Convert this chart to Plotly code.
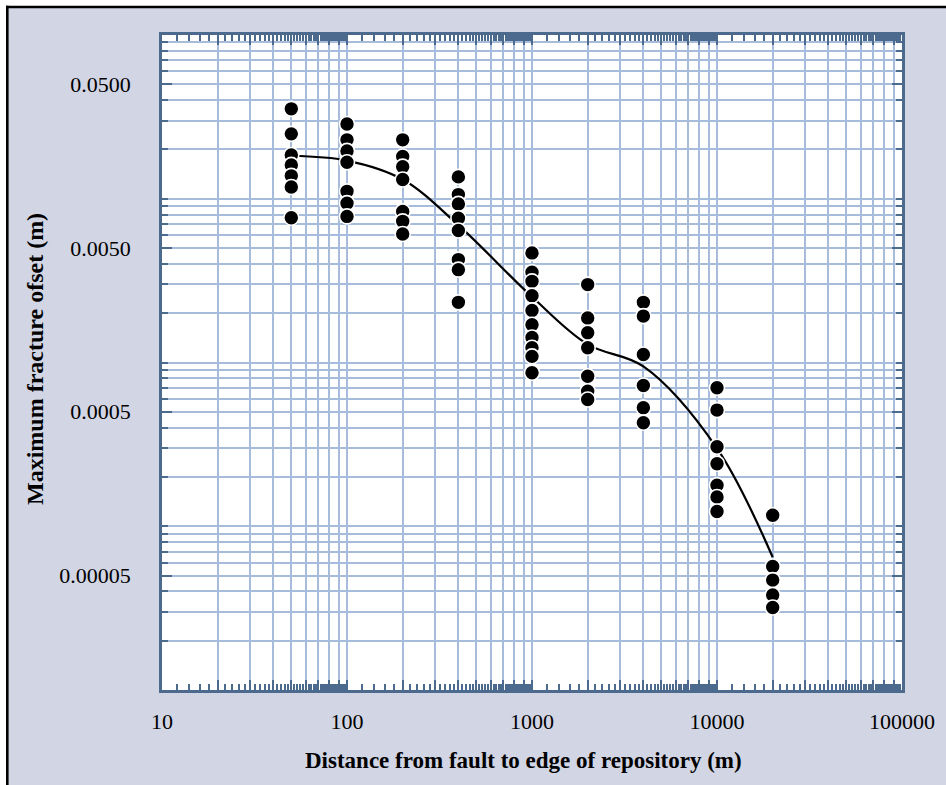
import plotly.graph_objects as go

# Distances from fault to repository edge (m) and the offsets computed at each
distances = [50, 100, 200, 400, 1000, 2000, 4000, 10000, 20000]
offsets = [
    [0.0354, 0.0249, 0.0185, 0.0161, 0.0138, 0.0118, 0.00766],
    [0.0286, 0.0229, 0.0196, 0.0167, 0.0111, 0.0094, 0.0078],
    [0.0229, 0.0181, 0.0157, 0.0131, 0.00837, 0.00728, 0.00609],
    [0.0136, 0.0106, 0.0093, 0.0076, 0.0064, 0.00425, 0.00369, 0.00233],
    [0.00467, 0.00356, 0.00313, 0.00256, 0.00208, 0.0017, 0.00142, 0.00123, 0.00109, 0.000865],
    [0.00299, 0.00187, 0.00152, 0.00123, 0.000825, 0.000668, 0.000594],
    [0.00233, 0.00192, 0.00112, 0.000724, 0.00053, 0.000429],
    [0.000701, 0.000512, 0.000306, 0.000241, 0.000178, 0.000151, 0.000123],
    [0.0001167, 0.0000568, 0.0000469, 0.000038, 0.0000319],
]

# Smoothed trend through the scatter
trend_x = [50, 100, 200, 400, 1000, 2000, 4000, 10000, 20000]
trend_y = [0.0183, 0.0171, 0.0131, 0.0069, 0.00252, 0.00129, 0.000946, 0.000299, 0.0000647]

x_decades = [10, 100, 1000, 10000, 100000]
y_label_vals = [0.05, 0.005, 0.0005, 0.00005]
y_label_text = ["0.0500", "0.0050", "0.0005", "0.00005"]

pts_x = [d for d, col in zip(distances, offsets) for _ in col]
pts_y = [v for col in offsets for v in col]

# Tick positions on the log axes
x_major = []
x_major_text = []
for d in x_decades[:-1]:
    for k in range(1, 10):
        x_major.append(d * k)
        x_major_text.append(str(d) if k == 1 else "")
x_major.append(x_decades[-1])
x_major_text.append(str(x_decades[-1]))
x_fine = [d * v / 10 for d in x_decades[:-1] for v in range(10, 100, 2) if v % 10]

y_minor = [m * 10.0 ** e for e in range(-5, -1) for m in range(1, 10) if m != 5] + [0.1]

PAPER = "#d2d6e4"
GRID = "#a7bbdb"
AXIS = "#4b6a8e"
FONT = "Liberation Serif"

L, R, T, B = 162, 44, 35, 95
W, H = 946, 785
PW, PH = W - L - R, H - T - B


def px_x(p):
    return (p - L) / PW


def px_y(p):
    return (H - B - p) / PH


fig = go.Figure()
fig.add_trace(go.Scatter(
    x=trend_x, y=trend_y, mode="lines",
    line=dict(color="black", width=2.2, shape="spline", smoothing=1.0),
    hoverinfo="skip", showlegend=False,
))
fig.add_trace(go.Scatter(
    x=pts_x, y=pts_y, mode="markers",
    marker=dict(color="black", size=15, line=dict(color="white", width=1.6)),
    showlegend=False,
))

axis_common = dict(
    type="log",
    showline=True, linecolor=AXIS, linewidth=2.5, mirror="allticks",
    ticks="inside", tickcolor=AXIS, tickwidth=2,
    showgrid=True, gridcolor=GRID, gridwidth=1.6,
    zeroline=False,
    tickfont=dict(family=FONT, size=22, color="black"),
)

fig.update_xaxes(
    **axis_common,
    range=[1, 5],
    tickmode="array", tickvals=x_major, ticktext=x_major_text, ticklen=10,
    ticklabelstandoff=10,
    minor=dict(tickmode="array", tickvals=x_fine, ticks="inside", ticklen=6,
               tickwidth=1.5, tickcolor=AXIS, showgrid=False),
)
fig.update_yaxes(
    **axis_common,
    range=[-5, -1],
    tickmode="array", tickvals=y_label_vals, ticktext=y_label_text, ticklen=10,
    ticklabelstandoff=24,
    minor=dict(tickmode="array", tickvals=y_minor, ticks="inside", ticklen=6,
               tickwidth=2, tickcolor=AXIS, showgrid=True, gridcolor=GRID, gridwidth=1.6),
)

shapes = [
    # white margin outside the framed panel
    dict(type="rect", xref="paper", yref="paper", x0=px_x(-5), x1=px_x(6), y0=px_y(H + 5), y1=px_y(-5),
         fillcolor="white", line=dict(width=0), layer="above"),
    dict(type="rect", xref="paper", yref="paper", x0=px_x(-5), x1=px_x(W + 5), y0=px_y(6), y1=px_y(-5),
         fillcolor="white", line=dict(width=0), layer="above"),
    # black frame edges
    dict(type="line", xref="paper", yref="paper", x0=px_x(7.3), x1=px_x(7.3), y0=px_y(H + 5), y1=px_y(5.8),
         line=dict(color="black", width=2.6), layer="above"),
    dict(type="line", xref="paper", yref="paper", x0=px_x(6), x1=px_x(W + 5), y0=px_y(7), y1=px_y(7),
         line=dict(color="black", width=2.6), layer="above"),
]

annotations = [
    dict(text="<b>Distance from fault to edge of repository (m)</b>", xref="paper", yref="paper",
         x=px_x(523), y=px_y(760), xanchor="center", yanchor="middle", showarrow=False,
         font=dict(family=FONT, size=23, color="black")),
    dict(text="<b>Maximum fracture ofset (m)</b>", xref="paper", yref="paper",
         x=px_x(35), y=px_y(359), xanchor="center", yanchor="middle", showarrow=False, textangle=-90,
         font=dict(family=FONT, size=24, color="black")),
]

fig.update_layout(
    width=W, height=H,
    margin=dict(l=L, r=R, t=T, b=B),
    paper_bgcolor=PAPER, plot_bgcolor="white",
    shapes=shapes, annotations=annotations,
    font=dict(family=FONT, color="black"),
)

fig.write_html("out.html")
